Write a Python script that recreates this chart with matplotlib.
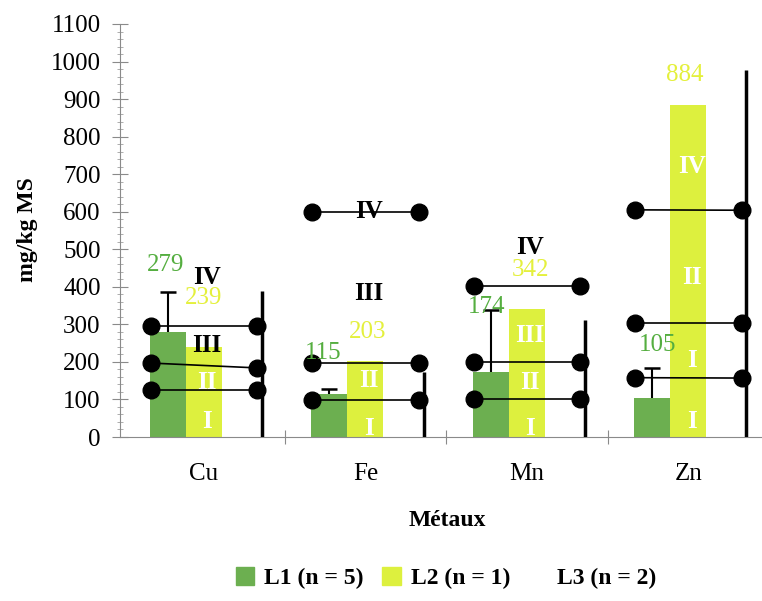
import numpy as np
import matplotlib
matplotlib.use("Agg")
from matplotlib import pyplot as plt
from matplotlib.patches import Patch

plt.rcParams['font.family'] = ['Liberation Serif', 'DejaVu Serif']

metals = ['Cu', 'Fe', 'Mn', 'Zn']
l1 = np.array([279, 115, 174, 105])
l2 = np.array([239, 203, 342, 884])
l1_max = np.array([386, 128, 338, 183])   # top of L1 error bars
l3_max = np.array([389, 173, 311, 977])   # L3 black bars (line)

# threshold lines (left value, right value) per metal
thresholds = [
    [(125, 125), (197, 184), (296, 296)],
    [(99, 99), (198, 198), (600, 600)],
    [(102, 102), (199, 199), (402, 402)],
    [(158, 157), (304, 304), (605, 604)],
]

# class labels: (metal index, text, y)
black_classes = [(0, 'IV', 426), (0, 'III', 245), (1, 'IV', 600), (1, 'III', 383), (2, 'IV', 505)]
white_classes = [(0, 'II', 145), (0, 'I', 40), (1, 'II', 150), (1, 'I', 22),
                 (2, 'III', 270), (2, 'II', 146), (2, 'I', 22),
                 (3, 'IV', 720), (3, 'II', 426), (3, 'I', 205), (3, 'I', 40)]

# value label positions (x offset, y)
l1_lab_dx = [-0.236, -0.26, -0.25, -0.19]
l1_lab_y = [458, 223, 346, 245]
l2_lab_dx = [0.0, 0.015, 0.02, -0.02]
l2_lab_y = [370, 280, 445, 964]

green = '#6CAF50'
yellow = '#DDF03E'
green_txt = '#55AE40'
yellow_txt = '#E4F03C'

fig = plt.figure(figsize=(7.62, 6.01), dpi=100)
ax = fig.add_axes([120/762, 164/601, (769-120)/762, 413/601])

x = np.arange(len(metals))
w = 0.223

ax.bar(x - w, l1, w, color=green, zorder=1)
ax.bar(x, l2, w, color=yellow, zorder=1)
# L1 error bars: upper part only
ax.vlines(x - w, l1, l1_max, color='black', lw=1.5, zorder=4)
ax.plot(x - w, l1_max, '_', color='black', ms=11, mew=1.8, zorder=4)
ax.vlines(x + 0.36, 0, l3_max, color='black', lw=2.5, zorder=4)

for i, thr in enumerate(thresholds):
    for a, b in thr:
        ax.plot([x[i] - 0.33, x[i] + 0.33], [a, b], '-o', color='black',
                ms=12, lw=1.2, zorder=3)

for i, t, y in black_classes:
    ax.text(x[i] + 0.02, y, t, color='black', fontsize=18, fontweight='bold',
            ha='center', va='center', zorder=5)
for i, t, y in white_classes:
    ax.text(x[i] + 0.02, y, t, color='white', fontsize=18, fontweight='bold',
            ha='center', va='center', zorder=5)

for i in range(4):
    ax.text(x[i] + l1_lab_dx[i], l1_lab_y[i], str(l1[i]), color=green_txt,
            fontsize=18, ha='center', va='center', zorder=5)
    ax.text(x[i] + l2_lab_dx[i], l2_lab_y[i], str(l2[i]), color=yellow_txt,
            fontsize=18, ha='center', va='center', zorder=5)

ax.set_xlim(-0.52, 3.5)
ax.set_ylim(0, 1100)
ax.set_yticks(np.arange(0, 1101, 100))
ax.set_yticks(np.arange(0, 1101, 20), minor=True)
ax.set_xticks(x)
ax.set_xticklabels(metals)
ax.set_xticks([0.5, 1.5, 2.5], minor=True)

for s in ['top', 'right']:
    ax.spines[s].set_visible(False)
for s in ['left', 'bottom']:
    ax.spines[s].set_color('#8a8a8a')
    ax.spines[s].set_linewidth(0.8)

ax.tick_params(axis='y', which='major', direction='inout', length=12, width=0.8,
               color='#8a8a8a', pad=8, labelsize=18)
ax.tick_params(axis='y', which='minor', direction='inout', length=5, width=0.6,
               color='#a0a0a0')
ax.tick_params(axis='x', which='major', length=0, pad=19, labelsize=18)
ax.tick_params(axis='x', which='minor', direction='inout', length=10, width=0.8,
               color='#8a8a8a')

fig.text(27/762, 1 - 230/601, 'mg/kg MS', rotation=90, fontsize=17,
         fontweight='bold', ha='center', va='center')
fig.text(447/762, 1 - 521/601, 'Métaux', fontsize=17, fontweight='bold',
         ha='center', va='center')

handles = [Patch(color=green), Patch(color=yellow), Patch(color='white')]
fig.legend(handles, ['L1 (n = 5)', 'L2 (n = 1)', 'L3 (n = 2)'], loc='center',
           bbox_to_anchor=(446/762, 1 - 578/601), ncol=3, frameon=False,
           prop={'size': 17, 'weight': 'bold'}, handlelength=0.8, handleheight=0.8,
           handletextpad=0.4, columnspacing=0.8)

fig.savefig('out.png', dpi=100)
